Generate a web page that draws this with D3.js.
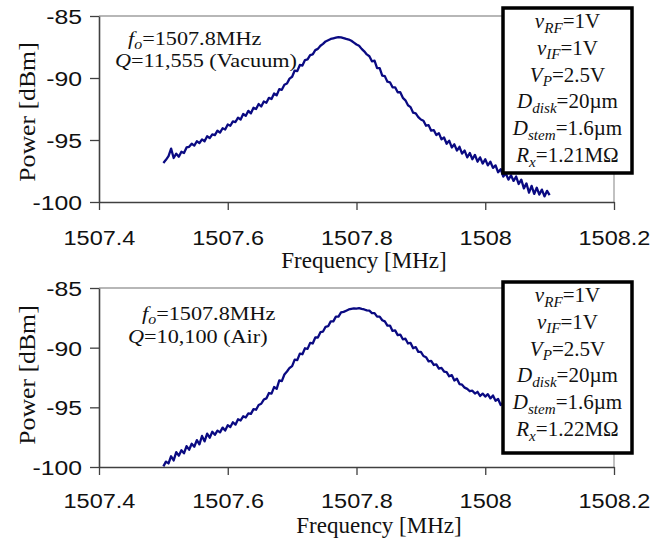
<!DOCTYPE html>
<html>
<head>
<meta charset="utf-8">
<script src="https://cdn.jsdelivr.net/npm/d3@7"></script>
<style>
  html, body { margin: 0; padding: 0; background: #fff; }
  svg { display: block; }
</style>
</head>
<body>
<svg id="chart" width="671" height="542"></svg>
<script>
// ---------------- DATA ----------------
const freqStart = 1507.5;   // MHz, first sweep point
const freqStep = 0.004;     // MHz, sweep spacing

const xTickValues = [1507.4, 1507.6, 1507.8, 1508.0, 1508.2];
const xTickLabels = ["1507.4", "1507.6", "1507.8", "1508", "1508.2"];
const yTickValues = [-85, -90, -95, -100];
const yTickLabels = ["-85", "-90", "-95", "-100"];

// Vacuum measurement (top panel), dBm
const powerVacuum = [
  -96.85,-96.60,-96.30,-95.70,-96.45,-96.10,-96.35,-95.95,-96.05,-95.60,
  -95.55,-95.30,-95.45,-95.10,-95.25,-94.95,-95.10,-94.70,-94.85,-94.55,
  -94.60,-94.25,-94.40,-94.05,-94.15,-93.75,-93.85,-93.50,-93.55,-93.20,
  -93.35,-92.90,-93.05,-92.65,-92.85,-92.40,-92.50,-92.10,-92.30,-91.90,
  -92.00,-91.60,-91.70,-91.25,-91.40,-90.90,-90.95,-90.55,-90.45,-90.05,
  -89.90,-89.40,-89.45,-88.95,-89.00,-88.55,-88.50,-88.15,-88.10,-87.75,
  -87.65,-87.40,-87.25,-87.05,-86.95,-86.85,-86.80,-86.75,-86.70,-86.72,
  -86.78,-86.85,-86.90,-87.00,-87.15,-87.30,-87.40,-87.65,-87.85,-88.10,
  -88.25,-88.65,-88.60,-89.20,-89.20,-89.80,-89.85,-90.30,-90.35,-90.75,
  -90.75,-91.15,-91.15,-91.60,-91.80,-92.20,-92.35,-92.80,-92.85,-93.15,
  -93.35,-93.45,-93.85,-93.80,-94.25,-94.20,-94.60,-94.45,-94.95,-94.80,
  -95.30,-95.05,-95.60,-95.35,-95.85,-95.55,-96.10,-95.85,-96.40,-96.05,
  -96.55,-96.20,-96.75,-96.40,-96.90,-96.55,-97.05,-96.75,-97.25,-97.05,
  -97.60,-97.35,-97.95,-97.70,-98.20,-97.85,-98.30,-97.95,-98.55,-98.20,
  -98.90,-98.50,-99.25,-98.70,-99.35,-98.85,-99.40,-99.00,-99.55,-99.10,
  -99.45
];

// Air measurement (bottom panel), dBm
const powerAir = [
  -99.95,-99.55,-99.70,-99.10,-99.45,-98.75,-99.05,-98.60,-98.85,-98.25,
  -98.55,-98.05,-98.30,-97.75,-98.10,-97.40,-97.85,-97.20,-97.55,-97.05,
  -97.30,-96.95,-97.10,-96.70,-96.95,-96.50,-96.65,-96.25,-96.45,-96.00,
  -96.10,-95.75,-95.85,-95.50,-95.55,-95.15,-95.20,-94.80,-94.70,-94.35,
  -94.25,-93.80,-93.85,-93.30,-93.45,-92.75,-92.80,-92.25,-92.00,-91.70,
  -91.55,-91.00,-91.05,-90.50,-90.55,-90.05,-90.10,-89.60,-89.65,-89.15,
  -89.15,-88.70,-88.65,-88.25,-88.20,-87.80,-87.80,-87.40,-87.40,-87.05,
  -87.00,-86.90,-86.80,-86.75,-86.70,-86.72,-86.68,-86.75,-86.80,-86.88,
  -86.90,-87.10,-87.10,-87.40,-87.40,-87.70,-87.80,-88.15,-88.15,-88.60,
  -88.55,-88.95,-88.90,-89.30,-89.25,-89.65,-89.60,-90.05,-89.95,-90.35,
  -90.35,-90.70,-90.80,-91.15,-91.10,-91.45,-91.40,-91.75,-91.70,-92.00,
  -92.05,-92.40,-92.30,-92.75,-92.60,-93.05,-93.10,-93.35,-93.45,-93.65,
  -93.60,-93.85,-93.70,-94.05,-93.85,-94.10,-93.90,-94.25,-94.00,-94.45,
  -94.30,-94.80,-94.60,-94.95,-94.85,-95.15,-95.00,-95.35,-95.20,-95.55,
  -95.40,-95.75,-95.60,-95.95,-95.80,-96.15,-96.00,-96.35,-96.20,-96.50,
  -96.40
];

const legendVacuum = [
  [["v","i"],["RF","sub"],["=1V","n"]],
  [["v","i"],["IF","sub"],["=1V","n"]],
  [["V","i"],["P","sub"],["=2.5V","n"]],
  [["D","i"],["disk","sub"],["=20\u00b5m","n"]],
  [["D","i"],["stem","sub"],["=1.6\u00b5m","n"]],
  [["R","i"],["x","sub"],["=1.21M\u03a9","n"]]
];
const legendAir = [
  [["v","i"],["RF","sub"],["=1V","n"]],
  [["v","i"],["IF","sub"],["=1V","n"]],
  [["V","i"],["P","sub"],["=2.5V","n"]],
  [["D","i"],["disk","sub"],["=20\u00b5m","n"]],
  [["D","i"],["stem","sub"],["=1.6\u00b5m","n"]],
  [["R","i"],["x","sub"],["=1.22M\u03a9","n"]]
];
const noteVacuum = [
  [["f","i"],["o","sub"],["=1507.8MHz","n"]],
  [["Q","i"],["=11,555 (Vacuum)","n"]]
];
const noteAir = [
  [["f","i"],["o","sub"],["=1507.8MHz","n"]],
  [["Q","i"],["=10,100 (Air)","n"]]
];

// ---------------- DRAWING ----------------
const svg = d3.select("#chart");
const SANS = "'Liberation Sans', Arial, sans-serif";
const SERIF = "'Liberation Serif', 'Times New Roman', serif";
const STRETCH = 1.12;

function richText(sel, parts, size) {
  let prevSub = false;
  parts.forEach(([txt, kind]) => {
    const t = sel.append("tspan").text(txt);
    if (kind === "i") t.attr("font-style", "italic");
    if (kind === "sub") {
      t.attr("font-style", "italic").attr("font-size", size * 0.72).attr("dy", size * 0.22);
    } else if (prevSub) {
      t.attr("dy", -size * 0.22);
    }
    prevSub = (kind === "sub");
  });
}

function panel(cfg) {
  const x = d3.scaleLinear().domain([1507.4, 1508.2]).range([99, 614]);
  const y = d3.scaleLinear().domain([-100, -85]).range([cfg.bottom, cfg.top]);
  const g = svg.append("g");

  // top & right frame (gray)
  g.append("path")
    .attr("d", `M${x(1507.4)},${y(-85)}H${x(1508.2)}V${y(-100)}`)
    .attr("fill", "none").attr("stroke", "#a0a0a0").attr("stroke-width", 1.3);

  // curve
  const line = d3.line()
    .x((d, i) => x(freqStart + i * freqStep))
    .y(d => y(d));
  g.append("path").datum(cfg.data)
    .attr("d", line)
    .attr("fill", "none").attr("stroke", "#0a0a82")
    .attr("stroke-width", 2.3).attr("stroke-linejoin", "round");

  // axes
  const xAxis = d3.axisBottom(x).tickValues(xTickValues)
    .tickFormat((d, i) => xTickLabels[i]).tickSize(8).tickSizeOuter(0);
  const gx = g.append("g").attr("transform", `translate(0,${cfg.bottom})`).call(xAxis);
  gx.selectAll("text")
    .attr("y", cfg.tickLabelY).attr("dy", 0)
    .attr("font-family", SANS).attr("font-size", 21).attr("fill", "#111")
    .attr("transform", `scale(${STRETCH},1)`);

  const yAxis = d3.axisLeft(y).tickValues(yTickValues)
    .tickFormat((d, i) => yTickLabels[i]).tickSize(9).tickSizeOuter(0);
  const gy = g.append("g").attr("transform", `translate(${x(1507.4)},0)`).call(yAxis);
  gy.selectAll("text")
    .attr("x", -17 / 1.18).attr("dy", "0.36em")
    .attr("font-family", SANS).attr("font-size", 21).attr("fill", "#111")
    .attr("transform", `scale(1.18,1)`);

  [gx, gy].forEach(a => {
    a.select(".domain").attr("stroke", "#404040").attr("stroke-width", 1.6);
    a.selectAll(".tick line").attr("stroke", "#404040").attr("stroke-width", 1.3);
  });

  // axis titles
  g.append("text")
    .attr("x", cfg.xTitleX).attr("y", cfg.xTitleY)
    .attr("text-anchor", "middle")
    .attr("font-family", SERIF).attr("font-size", 23).attr("fill", "#111")
    .text("Frequency [MHz]");
  g.append("text")
    .attr("transform", `translate(35,${cfg.yTitleY}) rotate(-90) scale(1.12,1)`)
    .attr("text-anchor", "middle")
    .attr("font-family", SERIF).attr("font-size", 23).attr("fill", "#111")
    .text("Power [dBm]");

  // annotation (slightly wide serif, as in the original)
  cfg.note.forEach((row, k) => {
    const t = g.append("text")
      .attr("transform", `translate(${cfg.noteX[k]},${cfg.noteY[k]}) scale(1.17,1)`)
      .attr("font-family", SERIF).attr("font-size", 19).attr("fill", "#111");
    richText(t, row, 19);
  });

  // legend box
  g.append("rect")
    .attr("x", 503).attr("y", cfg.boxTop)
    .attr("width", 129).attr("height", cfg.boxH)
    .attr("fill", "#fff").attr("stroke", "#000").attr("stroke-width", 3.5);
  cfg.legend.forEach((row, k) => {
    const t = g.append("text")
      .attr("x", 567.5).attr("y", cfg.boxTop + 20 + k * 26.8)
      .attr("text-anchor", "middle")
      .attr("font-family", SERIF).attr("font-size", 21).attr("fill", "#111");
    richText(t, row, 21);
  });
}

panel({
  top: 16, bottom: 202, data: powerVacuum, tickLabelY: 43,
  xTitleX: 364, xTitleY: 268, yTitleY: 112,
  note: noteVacuum, noteX: [128, 115], noteY: [45, 67],
  legend: legendVacuum, boxTop: 8, boxH: 165
});
panel({
  top: 288, bottom: 467, data: powerAir, tickLabelY: 41,
  xTitleX: 379, xTitleY: 533, yTitleY: 375,
  note: noteAir, noteX: [142, 128], noteY: [320, 343],
  legend: legendAir, boxTop: 282, boxH: 171
});
</script>
</body>
</html>
